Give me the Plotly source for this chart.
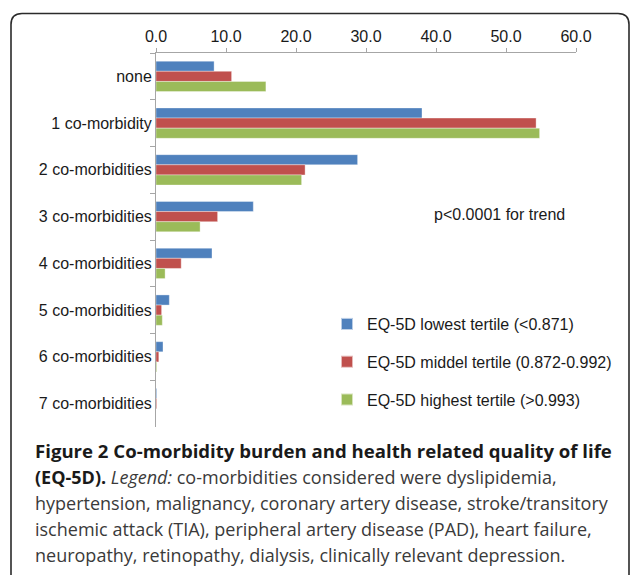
import plotly.graph_objects as go

categories = ["none", "1 co-morbidity", "2 co-morbidities", "3 co-morbidities",
              "4 co-morbidities", "5 co-morbidities", "6 co-morbidities", "7 co-morbidities"]
series_names = ["EQ-5D lowest tertile (<0.871)",
                "EQ-5D middel tertile (0.872-0.992)",
                "EQ-5D highest tertile (>0.993)"]
lowest = [8.3, 38.0, 28.8, 13.9, 8.0, 1.9, 1.0, 0.1]
middle = [10.8, 54.3, 21.3, 8.8, 3.6, 0.8, 0.4, 0.1]
highest = [15.7, 54.8, 20.8, 6.3, 1.3, 0.9, 0.1, 0.0]
x_ticks = [0, 10, 20, 30, 40, 50, 60]
colors = ["#4f81bd", "#c0504d", "#9bbb59"]

caption_lines = [
    "<b>Figure 2 Co-morbidity burden and health related quality of life</b>",
    "<span style='color:#1a1a1a'><b>(EQ-5D).</b></span> <i>Legend:</i> co-morbidities considered were dyslipidemia,",
    "hypertension, malignancy, coronary artery disease, stroke/transitory",
    "ischemic attack (TIA), peripheral artery disease (PAD), heart failure,",
    "neuropathy, retinopathy, dialysis, clinically relevant depression.",
]

W, H = 630, 575
L, R, T, B = 156, 54, 53, 148
PW, PH = W - L - R, H - T - B


def px(x):
    return (x - L) / PW


def py(y):
    return (H - B - y) / PH


FONT = "Liberation Sans, Arial, sans-serif"

fig = go.Figure()
for name, vals, c in zip(series_names, [lowest, middle, highest], colors):
    fig.add_trace(go.Bar(
        y=categories, x=vals, name=name, orientation="h",
        marker=dict(color=c, line=dict(color="rgba(255,255,255,0.6)", width=0.6)),
        legendgroup=name,
    ))

fig.update_layout(
    width=W, height=H,
    margin=dict(l=L, r=R, t=T, b=B, pad=0),
    paper_bgcolor="white", plot_bgcolor="white",
    barmode="group", bargap=0.35, bargroupgap=0,
    font=dict(family=FONT, size=16, color="#1a1a1a"),
    showlegend=True,
    legend=dict(x=px(327), xanchor="left", y=py(307), yanchor="top",
                font=dict(size=16, family=FONT, color="#1a1a1a"),
                tracegroupgap=14, bgcolor="rgba(0,0,0,0)", itemsizing="constant"),
    xaxis=dict(side="top", range=[0, 60], tickvals=x_ticks, tickformat=".1f",
               showgrid=False, zeroline=False, showline=True, linecolor="#a6a6a6",
               linewidth=1, ticks="outside", ticklen=4, tickcolor="#a6a6a6",
               tickfont=dict(size=16)),
    yaxis=dict(autorange="reversed", showgrid=False, zeroline=False, showline=True,
               linecolor="#a6a6a6", linewidth=1, ticks="outside", ticklen=5,
               tickcolor="#a6a6a6", tickson="boundaries", tickfont=dict(size=16)),
)

fig.add_annotation(xref="paper", yref="paper", x=px(499.5), y=py(215),
                   text="p<0.0001 for trend", showarrow=False,
                   xanchor="center", yanchor="middle",
                   font=dict(size=16, family=FONT, color="#1a1a1a"))

cap_y = [450, 477, 503, 529, 555]
for i, (txt, yy) in enumerate(zip(caption_lines, cap_y)):
    fig.add_annotation(xref="paper", yref="paper", x=px(33), y=py(yy),
                       text=txt, showarrow=False, xanchor="left", yanchor="middle",
                       font=dict(size=18.6 if i == 0 else 18, family="Open Sans, sans-serif",
                                 color="#1a1a1a" if i == 0 else "#3a3a3a"))

# rounded figure frame (open at the bottom)
r = 11
x0, x1, y0, y1 = 11, 629, 13.5, 590
path = (f"M {px(x0)},{py(y1)} L {px(x0)},{py(y0 + r)} "
        f"Q {px(x0)},{py(y0)} {px(x0 + r)},{py(y0)} "
        f"L {px(x1 - r)},{py(y0)} Q {px(x1)},{py(y0)} {px(x1)},{py(y0 + r)} "
        f"L {px(x1)},{py(y1)}")
fig.add_shape(type="path", xref="paper", yref="paper", path=path,
              line=dict(color="#2b2b2b", width=1.6), layer="above")

fig.write_html("out.html", config={"displayModeBar": False},
               post_script="document.body.style.margin='0';")
